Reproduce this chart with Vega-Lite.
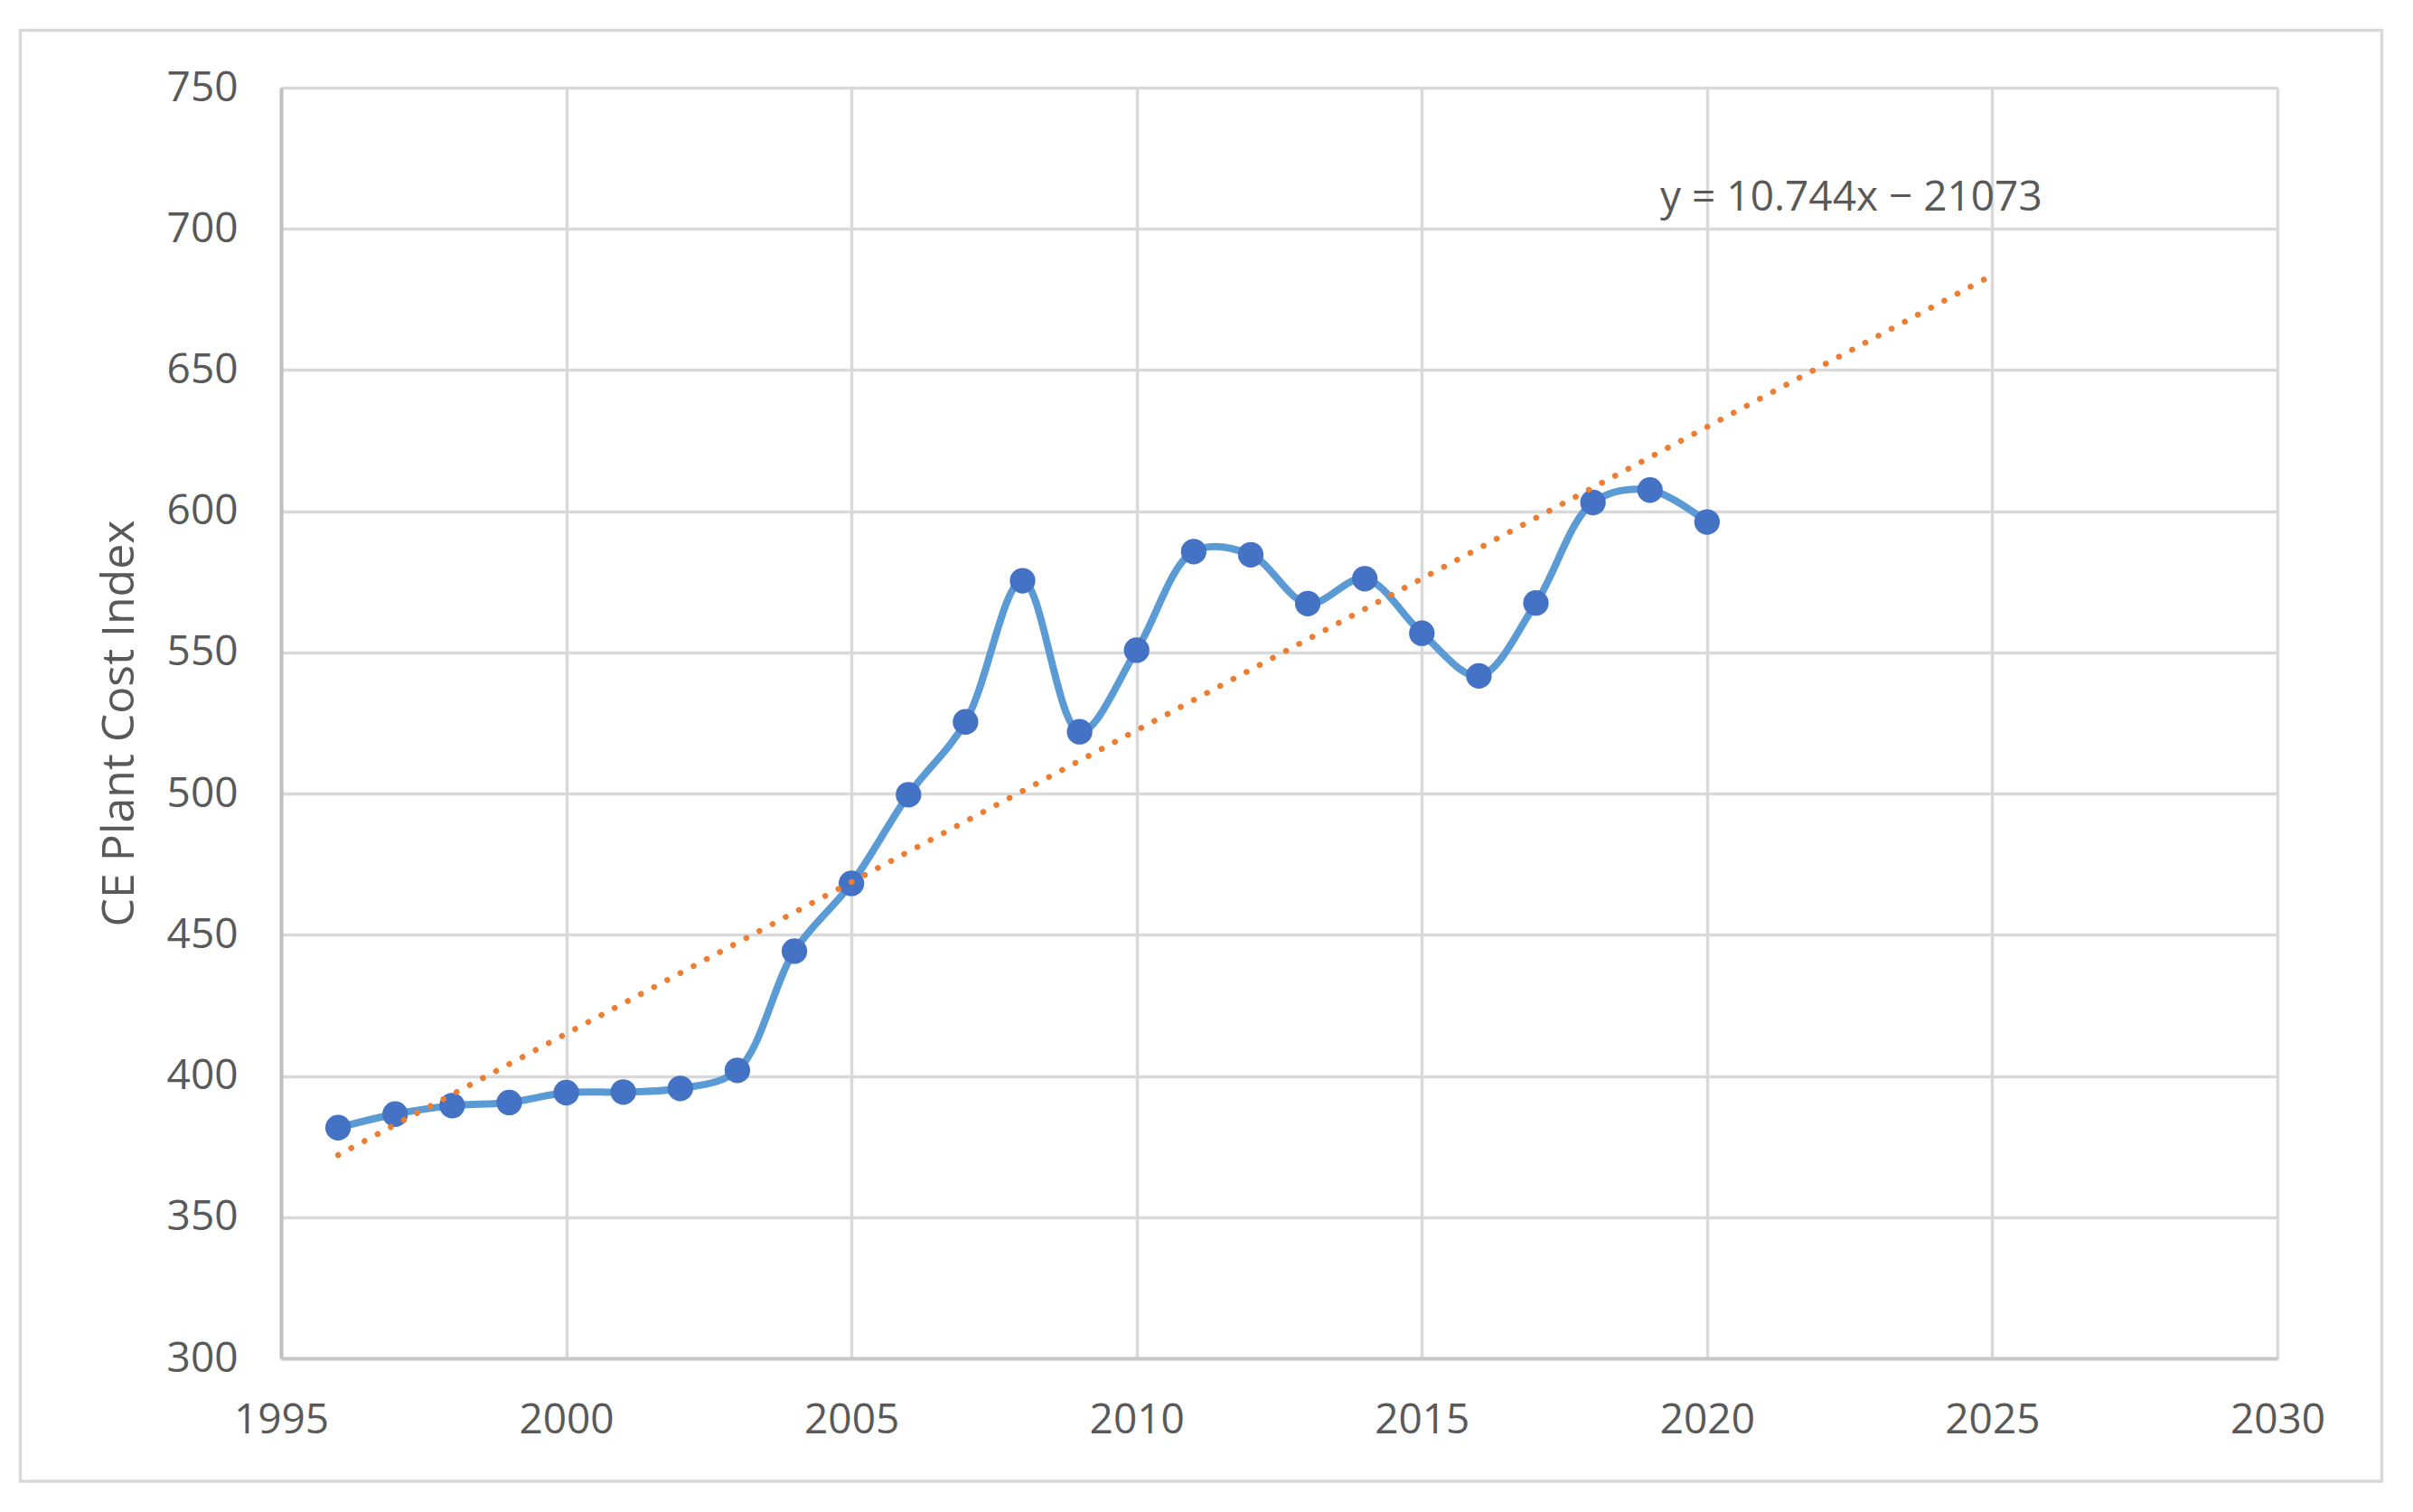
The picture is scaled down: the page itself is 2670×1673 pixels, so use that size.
{
  "$schema": "https://vega.github.io/schema/vega-lite/v6.json",
  "width": 2209,
  "height": 1406,
  "autosize": {"type": "none"},
  "padding": {"left": 311, "top": 97, "right": 150, "bottom": 170},
  "background": "white",
  "config": {
    "view": {"stroke": null},
    "font": "Open Sans"
  },
  "datasets": {
    "cepci": [
      {"year": 1996, "index": 381.7},
      {"year": 1997, "index": 386.5},
      {"year": 1998, "index": 389.5},
      {"year": 1999, "index": 390.6},
      {"year": 2000, "index": 394.1},
      {"year": 2001, "index": 394.3},
      {"year": 2002, "index": 395.6},
      {"year": 2003, "index": 402.0},
      {"year": 2004, "index": 444.2},
      {"year": 2005, "index": 468.2},
      {"year": 2006, "index": 499.6},
      {"year": 2007, "index": 525.4},
      {"year": 2008, "index": 575.4},
      {"year": 2009, "index": 521.9},
      {"year": 2010, "index": 550.8},
      {"year": 2011, "index": 585.7},
      {"year": 2012, "index": 584.6},
      {"year": 2013, "index": 567.3},
      {"year": 2014, "index": 576.1},
      {"year": 2015, "index": 556.8},
      {"year": 2016, "index": 541.7},
      {"year": 2017, "index": 567.5},
      {"year": 2018, "index": 603.1},
      {"year": 2019, "index": 607.5},
      {"year": 2020, "index": 596.2}
    ],
    "trend": [
      {"year": 1996, "index": 372.0},
      {"year": 2025, "index": 683.6}
    ],
    "label": [
      {"year": 2019.18, "index": 706.5, "text": "y = 10.744x − 21073"}
    ]
  },
  "layer": [
    {
      "data": {"name": "cepci"},
      "mark": {"type": "line", "color": "#5B9BD5", "strokeWidth": 8, "interpolate": "catmull-rom"},
      "encoding": {
        "x": {
          "field": "year", "type": "quantitative",
          "scale": {"domain": [1995, 2030], "nice": false, "zero": false},
          "axis": {
            "values": [1995, 2000, 2005, 2010, 2015, 2020, 2025, 2030],
            "format": "d",
            "title": null,
            "grid": true,
            "gridColor": "#D9D9D9",
            "gridWidth": 3.5,
            "domainColor": "#C8C8C8",
            "domainWidth": 4,
            "ticks": false,
            "labelFlush": false,
            "labelFont": "Open Sans",
            "labelFontSize": 46,
            "labelColor": "#595959",
            "labelPadding": 46,
            "labelBaseline": "top"
          }
        },
        "y": {
          "field": "index", "type": "quantitative",
          "scale": {"domain": [300, 750], "nice": false, "zero": false},
          "axis": {
            "values": [300, 350, 400, 450, 500, 550, 600, 650, 700, 750],
            "title": "CE Plant Cost Index",
            "titleFont": "Open Sans",
            "titleFontSize": 50,
            "titleFontWeight": "normal",
            "titleColor": "#595959",
            "titlePadding": 27,
            "grid": true,
            "gridColor": "#D9D9D9",
            "gridWidth": 3.5,
            "domainColor": "#C0C0C0",
            "domainWidth": 4,
            "ticks": false,
            "labelFlush": false,
            "labelFont": "Open Sans",
            "labelFontSize": 46,
            "labelColor": "#595959",
            "labelPadding": 48
          }
        }
      }
    },
    {
      "data": {"values": [{}]},
      "mark": {"type": "rect", "filled": false, "color": "#D9D9D9", "strokeWidth": 3.5, "clip": false},
      "encoding": {
        "x": {"datum": 1990.43, "type": "quantitative"},
        "x2": {"datum": 2031.83},
        "y": {"datum": 770.32, "type": "quantitative"},
        "y2": {"datum": 256.5}
      }
    },
    {
      "data": {"name": "cepci"},
      "mark": {"type": "point", "shape": "circle", "filled": true, "color": "#4472C4", "size": 800, "opacity": 1},
      "encoding": {
        "x": {"field": "year", "type": "quantitative"},
        "y": {"field": "index", "type": "quantitative"}
      }
    },
    {
      "data": {"name": "trend"},
      "mark": {"type": "line", "color": "#ED7D31", "strokeWidth": 6.5, "strokeCap": "round", "strokeDash": [0.1, 16.4]},
      "encoding": {
        "x": {"field": "year", "type": "quantitative"},
        "y": {"field": "index", "type": "quantitative"}
      }
    },
    {
      "data": {"name": "label"},
      "mark": {"type": "text", "align": "left", "baseline": "alphabetic", "font": "Open Sans", "fontSize": 46, "color": "#595959"},
      "encoding": {
        "x": {"field": "year", "type": "quantitative"},
        "y": {"field": "index", "type": "quantitative"},
        "text": {"field": "text"}
      }
    }
  ]
}
